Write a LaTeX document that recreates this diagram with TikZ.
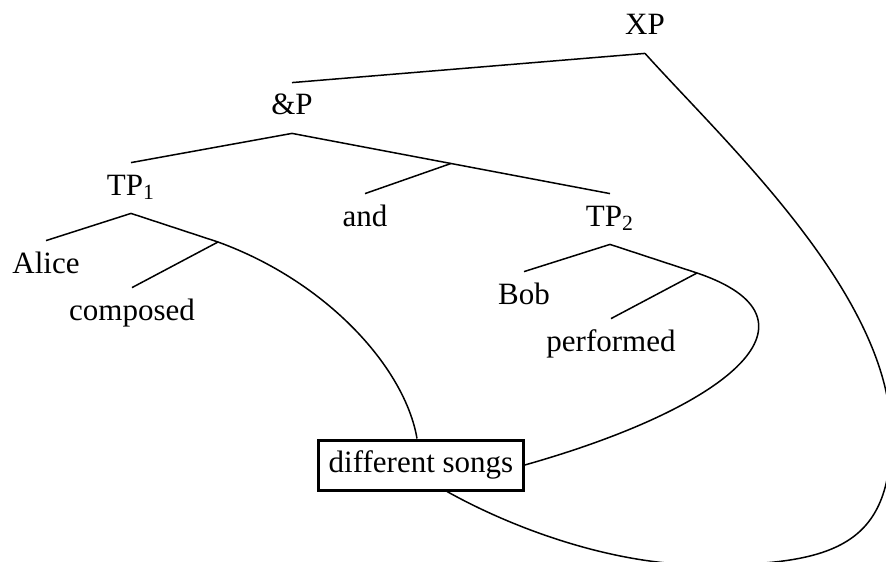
\documentclass[tikz,border=0pt]{standalone}
\usepackage{fontspec}
\setmainfont{Liberation Serif}
\usetikzlibrary{calc}
\begin{document}
\begin{tikzpicture}[x=0.5pt, y=-0.5pt,
  word/.style={anchor=base, font=\fontsize{15.5}{18}\selectfont,
    text height=10.5pt, text depth=3.5pt, inner xsep=5pt, inner ysep=5.5pt},
  boxed/.style={word, draw, line width=1.5pt},
  branch/.style={line width=0.75pt, line join=round}]
\useasboundingbox (0,0) rectangle (886,561);

% tree labels
\node[word] (xp)        at (645,35)  {XP};
\node[word] (andP)      at (292,115) {\&P};
\node[word] (tp1)       at (131,195) {TP\textsubscript{1}};
\node[word] (and)       at (365,226) {and};
\node[word] (tp2)       at (610,226) {TP\textsubscript{2}};
\node[word] (alice)     at (46,273)  {Alice};
\node[word] (composed)  at (132,320) {composed};
\node[word] (bob)       at (524,304) {Bob};
\node[word] (performed) at (611,351) {performed};
\node[boxed] (ds)       at (421,472) {different songs};

% branching points and turning points of the curved edges
\coordinate (m)  at ($(andP.south)!0.5!(tp2.north)$);
\coordinate (c1) at (218,242);
\coordinate (c2) at (697,273);
\coordinate (r1) at (891,435);
\coordinate (r2) at (705,565);

% straight branches
\draw[branch] (xp.south) -- (andP.north);
\draw[branch] (andP.south) -- (tp1.north);
\draw[branch] (andP.south) -- (tp2.north);
\draw[branch] (m) -- (and.north);
\draw[branch] (tp1.south) -- (alice.north);
\draw[branch] (c1) -- (composed.north);
\draw[branch] (tp2.south) -- (bob.north);
\draw[branch] (c2) -- (performed.north);

% curved branches down to the shared object
\draw[branch] (tp1.south) -- (c1)
  .. controls +(110,40) and +(-12,-70) .. ([xshift=-2pt]ds.north);
\draw[branch] (tp2.south) -- (c2)
  .. controls +(133,45) and +(212,-60) .. (ds.east);
\draw[branch] (xp.south)
  .. controls +(80,89) and +(0,-140) .. (r1)
  .. controls +(0,110) and +(130,0) .. (r2)
  .. controls +(-90,0) and +(70,39) .. ([xshift=13pt]ds.south);
\end{tikzpicture}
\end{document}
